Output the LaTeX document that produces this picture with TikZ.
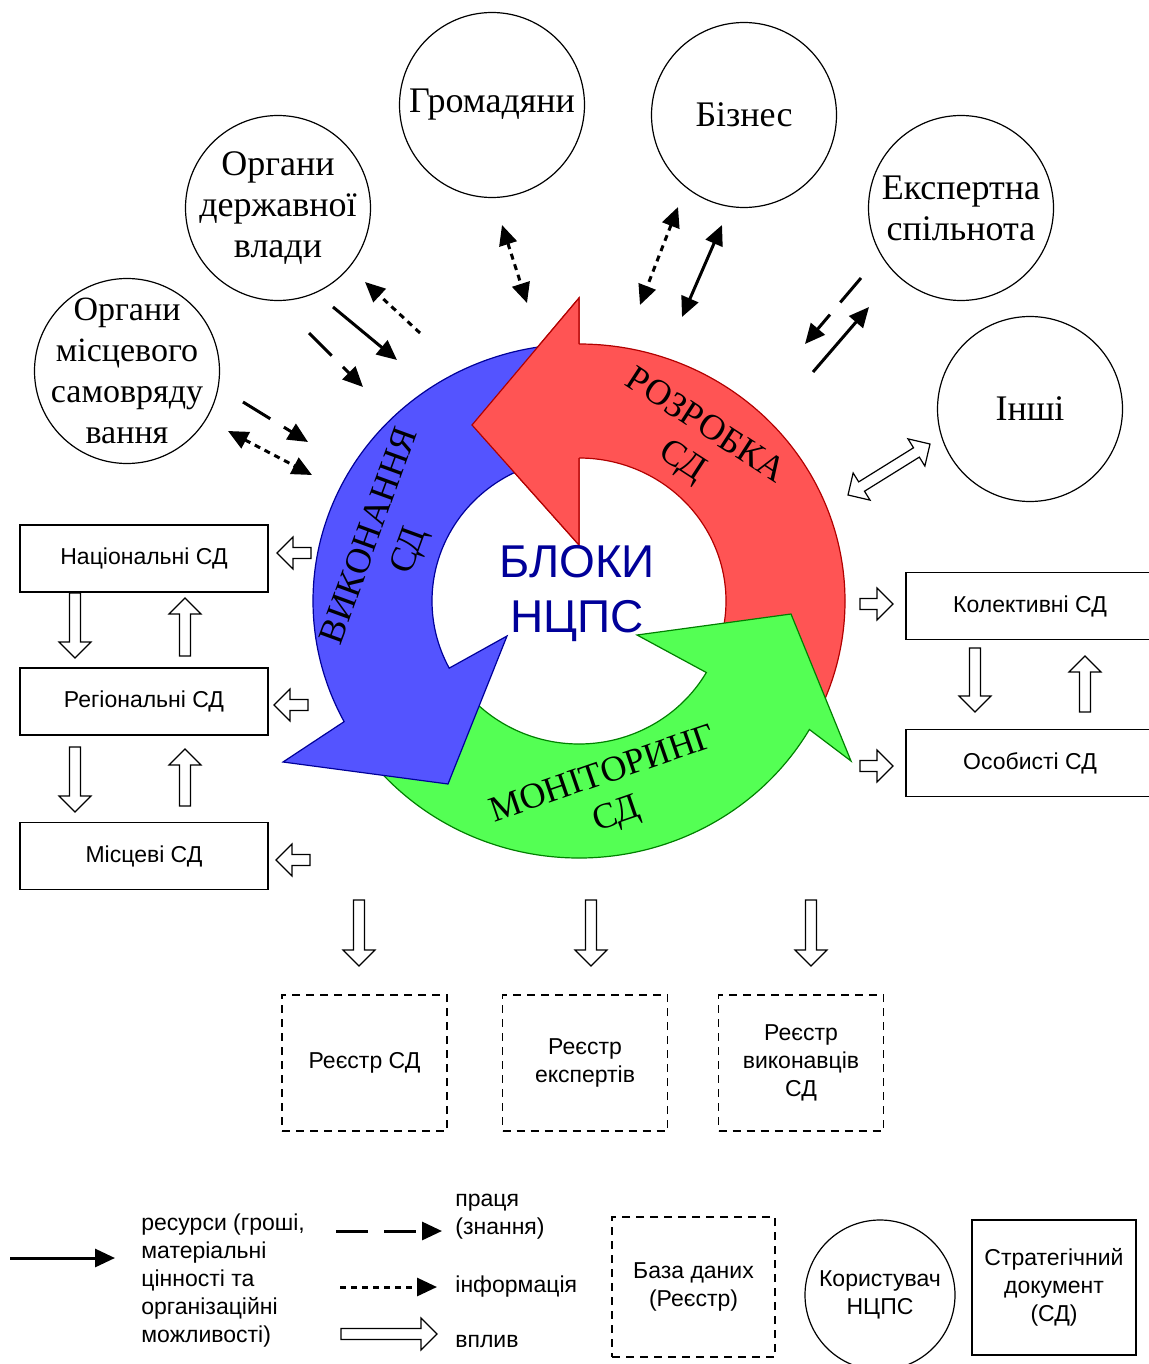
\documentclass[tikz,border=0pt]{standalone}
\usepackage{fontspec}
\setmainfont{Liberation Serif}
\setsansfont{Liberation Sans}
\usepackage{tikz}
\usetikzlibrary{arrows.meta,calc,positioning}
\definecolor{rozrobkafill}{rgb}{1,0.33,0.33}
\definecolor{rozrobkaline}{rgb}{0.7,0,0}
\definecolor{vykonfill}{rgb}{0.33,0.33,1}
\definecolor{vykonline}{rgb}{0,0,0.6}
\definecolor{monitfill}{rgb}{0.33,1,0.33}
\definecolor{monitline}{rgb}{0,0.5,0}
\definecolor{blokyblue}{rgb}{0,0,0.6}

% hollow arrow (vplyv) from #1 to #2
\newcommand{\vplyvarrow}[2]{%
  \filldraw[vplyv] ($(#1)!2.75pt!90:(#2)$)
    -- ($(#2)!8pt!(#1)!2.75pt!-90:(#1)$)
    -- ($(#2)!8pt!(#1)!8pt!-90:(#1)$)
    -- (#2)
    -- ($(#2)!8pt!(#1)!8pt!90:(#1)$)
    -- ($(#2)!8pt!(#1)!2.75pt!90:(#1)$)
    -- ($(#1)!2.75pt!-90:(#2)$) -- cycle;}
% hollow arrow with two heads
\newcommand{\vplyvdouble}[2]{%
  \filldraw[vplyv] (#1)
    -- ($(#1)!8pt!(#2)!8pt!90:(#2)$)
    -- ($(#1)!8pt!(#2)!2.75pt!90:(#2)$)
    -- ($(#2)!8pt!(#1)!2.75pt!-90:(#1)$)
    -- ($(#2)!8pt!(#1)!8pt!-90:(#1)$)
    -- (#2)
    -- ($(#2)!8pt!(#1)!8pt!90:(#1)$)
    -- ($(#2)!8pt!(#1)!2.75pt!90:(#1)$)
    -- ($(#1)!8pt!(#2)!2.75pt!-90:(#2)$)
    -- ($(#1)!8pt!(#2)!8pt!-90:(#2)$) -- cycle;}

\begin{document}
\begin{tikzpicture}[x=0.5pt, y=-0.5pt,
    >={Triangle[length=10pt,width=9pt]},
    kolo/.style={circle, draw, line width=0.6pt, minimum size=92.5pt, inner sep=-14pt, align=center, font=\fontsize{18}{20.5}\selectfont},
    blok/.style={draw, line width=0.6pt, minimum width=124pt, minimum height=33.5pt, inner sep=0pt, align=center, font=\sffamily\fontsize{11.5}{14}\selectfont},
    reestr/.style={blok, dash pattern=on 4pt off 3pt, minimum width=82.5pt, minimum height=68pt},
    legtext/.style={anchor=west, align=left, inner sep=0pt, font=\sffamily\fontsize{11.5}{14}\selectfont},
    napys/.style={align=center, inner sep=0pt, font=\fontsize{18}{21}\selectfont},
    resurs/.style={line width=1.5pt, ->},
    pratsia/.style={resurs, dash pattern=on 16pt off 8pt},
    info/.style={resurs, dash pattern=on 3pt off 2.5pt},
    vplyv/.style={draw=black, fill=white, line width=0.6pt, line join=miter}]
  \useasboundingbox (0,0) rectangle (1149,1364);

  % Draw the cycle of the three blocks
  \begin{scope}[shift={(579,601)}, y=0.5pt]
    \filldraw[fill=rozrobkafill, draw=rozrobkaline, line width=0.6pt]
      (-25:266 and 257) arc[start angle=-25, end angle=90, x radius=266, y radius=257]
      -- (0,303) -- (-107,176) -- (0,56) -- (0,143)
      arc[start angle=90, end angle=-25, x radius=147, y radius=143] -- cycle;
    \filldraw[fill=monitfill, draw=monitline, line width=0.6pt]
      (220:266 and 257) arc[start angle=220, end angle=330, x radius=266, y radius=257]
      -- (272,-160) -- (212,-13) -- (58,-34) -- (330:147 and 143)
      arc[start angle=330, end angle=220, x radius=147, y radius=143] -- cycle;
    \filldraw[fill=vykonfill, draw=vykonline, line width=0.6pt]
      (96:266 and 257) arc[start angle=96, end angle=208, x radius=266, y radius=257]
      -- (-296,-161) -- (-131,-183) -- (-72,-35) -- (208:147 and 143)
      arc[start angle=208, end angle=96, x radius=147, y radius=143] -- cycle;
    % head of the red arrow lies over the blue one
    \fill[rozrobkafill] (0,257) -- (0,303) -- (-107,176) -- (0,56) -- (0,143) -- cycle;
    \draw[rozrobkaline, line width=0.6pt] (0,257) -- (0,303) -- (-107,176) -- (0,56) -- (0,143);
  \end{scope}

  % Labels of the blocks
  \node[napys, rotate=-33] (trozrobka) at (693,445) {РОЗРОБКА\\СД};
  \node[napys, rotate=70] (tvykon) at (391,544) {ВИКОНАННЯ\\СД};
  \node[napys, rotate=19] (tmonit) at (610,796) {МОНІТОРИНГ\\СД};
  \node[align=center, inner sep=0pt, text=blokyblue, font=\sffamily\fontsize{23}{27.5}\selectfont] (bloky) at (577,594) {БЛОКИ\\НЦПС};

  % Users of the system
  \node[kolo] (derzh) at (278,208) {Органи\\державної\\влади};
  \node[kolo] (hromad) at (492,105) {Громадяни};
  \node[kolo] (biznes) at (744,115) {Бізнес};
  \node[kolo] (ekspert) at (961,208) {Експертна\\спільнота};
  \node[kolo] (inshi) at (1030,409) {Інші};
  \node[kolo, font=\fontsize{17}{20.5}\selectfont] (mistsev) at (127,371) {Органи\\місцевого\\самовряду\\вання};

  % Strategic documents
  \node[blok] (nats) at (144,558.5) {Національні СД};
  \node[blok] (reg) at (144,701.5) {Регіональні СД};
  \node[blok] (mists) at (144,856) {Місцеві СД};
  \node[blok] (kolekt) at (1030,606) {Колективні СД};
  \node[blok] (osob) at (1030,763) {Особисті СД};

  % Registers
  \node[reestr] (rsd) at (364.5,1063) {Реєстр СД};
  \node[reestr] (reksp) at (585,1063) {Реєстр\\експертів};
  \node[reestr] (rvyk) at (801,1063) {Реєстр\\виконавців\\СД};

  % Flows between users and blocks
  \coordinate (dzi1) at (420,333); \coordinate (dzi2) at (365,282);
  \coordinate (dzr1) at (333,307); \coordinate (dzr2) at (397,360);
  \coordinate (dzp1) at (309,333); \coordinate (dzp2) at (363,387);
  \coordinate (msp1) at (243,402); \coordinate (msp2) at (308,442);
  \coordinate (msi1) at (228,431); \coordinate (msi2) at (312,475);
  \coordinate (hri1) at (502,225); \coordinate (hri2) at (527,303);
  \coordinate (bzi1) at (678,207); \coordinate (bzi2) at (640,305);
  \coordinate (bzr1) at (722,225); \coordinate (bzr2) at (682,317);
  \coordinate (ekp1) at (861,278); \coordinate (ekp2) at (805,344);
  \coordinate (ekr1) at (813,372); \coordinate (ekr2) at (869,307);
  \draw[info] (dzi1) -- (dzi2);
  \draw[resurs] (dzr1) -- (dzr2);
  \draw[pratsia] (dzp1) -- (dzp2);
  \draw[pratsia] (msp1) -- (msp2);
  \draw[info, <->] (msi1) -- (msi2);
  \draw[info, <->] (hri1) -- (hri2);
  \draw[info, <->] (bzi1) -- (bzi2);
  \draw[resurs, <->] (bzr1) -- (bzr2);
  \draw[pratsia] (ekp1) -- (ekp2);
  \draw[resurs] (ekr1) -- (ekr2);

  % Influence arrows
  \coordinate (vn1) at (311,553); \coordinate (vn2) at (277,553);
  \coordinate (vr1) at (308,705); \coordinate (vr2) at (274,705);
  \coordinate (vm1) at (310,860); \coordinate (vm2) at (276,860);
  \coordinate (dn1) at (75,593); \coordinate (dn2) at (75,658);
  \coordinate (un1) at (185,656); \coordinate (un2) at (185,598);
  \coordinate (dr1) at (75,747); \coordinate (dr2) at (75,812);
  \coordinate (ur1) at (185,806); \coordinate (ur2) at (185,749);
  \coordinate (vk1) at (860,604); \coordinate (vk2) at (893,604);
  \coordinate (vo1) at (860,766); \coordinate (vo2) at (893,766);
  \coordinate (dk1) at (975,648); \coordinate (dk2) at (975,712);
  \coordinate (uk1) at (1085,712); \coordinate (uk2) at (1085,656);
  \coordinate (rs1) at (359,900); \coordinate (rs2) at (359,966);
  \coordinate (re1) at (591,900); \coordinate (re2) at (591,966);
  \coordinate (rv1) at (811,900); \coordinate (rv2) at (811,966);
  \foreach \a/\b in {vn1/vn2, vr1/vr2, vm1/vm2, dn1/dn2, un1/un2, dr1/dr2, ur1/ur2,
      vk1/vk2, vo1/vo2, dk1/dk2, uk1/uk2, rs1/rs2, re1/re2, rv1/rv2}
    \vplyvarrow{\a}{\b};
  \coordinate (in1) at (848,495); \coordinate (in2) at (930,444);
  \vplyvdouble{in1}{in2}

  % Legend
  \coordinate (lr1) at (10,1258); \coordinate (lr2) at (115,1258);
  \coordinate (lp1) at (336,1231); \coordinate (lp2) at (442,1231);
  \coordinate (li1) at (340,1287); \coordinate (li2) at (437,1287);
  \coordinate (lv1) at (341,1334); \coordinate (lv2) at (437,1334);
  \draw[resurs] (lr1) -- (lr2);
  \draw[pratsia] (lp1) -- (lp2);
  \draw[info] (li1) -- (li2);
  \vplyvarrow{lv1}{lv2}
  \node[legtext] (lresurs) at (141,1281) {ресурси (гроші,\\матеріальні\\цінності та\\організаційні\\можливості)};
  \node[legtext] (lpratsia) at (455,1217) {праця\\(знання)};
  \node[legtext] (linfo) at (455,1287) {інформація};
  \node[legtext] (lvplyv) at (455,1342) {вплив};
  \node[reestr, minimum width=81.5pt, minimum height=70pt] (baza) at (693.5,1287) {База даних\\(Реєстр)};
  \node[kolo, minimum size=75pt, font=\sffamily\fontsize{11.5}{14}\selectfont] (korystuvach) at (880,1295) {Користувач\\НЦПС};
  \node[blok, minimum width=82pt, minimum height=67.5pt] (strat) at (1054,1287.5) {Стратегічний\\документ\\(СД)};
\end{tikzpicture}
\end{document}
